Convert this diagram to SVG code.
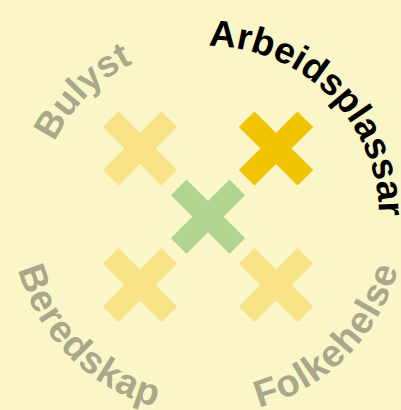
<svg xmlns="http://www.w3.org/2000/svg" xmlns:xlink="http://www.w3.org/1999/xlink" width="401" height="410" viewBox="0 0 401 410">
  <style>
    .lbl { font-family: "Liberation Sans", Arial, sans-serif; font-weight: bold; font-size: 37px; }
    .bot { font-size: 38px; letter-spacing: 1px; }
    .muted { fill: #aaa78a; }
    .active { fill: #000000; }
    .pale { fill: #f7e385; }
    .gold { fill: #f2c300; }
    .green { fill: #b1d48f; }
  </style>
  <defs>
    <g id="cross">
      <rect x="-41.5" y="-11" width="83" height="22" transform="rotate(45)"/>
      <rect x="-41.5" y="-11" width="83" height="22" transform="rotate(-45)"/>
    </g>
    <path id="arcTop" d="M 37,217 A 171 171 0 0 1 379,217"/>
    <path id="arcBot" d="M 11,217 A 197 197 0 0 0 405,217"/>
  </defs>
  <rect width="401" height="410" fill="#faf6c8"/>
  <g id="node-bulyst" class="pale"><use href="#cross" transform="translate(140,148.5)"/></g>
  <g id="node-arbeidsplassar" class="gold"><use href="#cross" transform="translate(276,148.5)"/></g>
  <g id="node-centre" class="green"><use href="#cross" transform="translate(208,216.7)"/></g>
  <g id="node-beredskap" class="pale"><use href="#cross" transform="translate(140,285)"/></g>
  <g id="node-folkehelse" class="pale"><use href="#cross" transform="translate(276,285)"/></g>
  <g id="labels">
    <text class="lbl muted" text-anchor="middle"><textPath href="#arcTop" startOffset="25%">Bulyst</textPath></text>
    <text class="lbl active" text-anchor="middle"><textPath href="#arcTop" startOffset="75%">Arbeidsplassar</textPath></text>
    <text class="lbl bot muted" text-anchor="middle"><textPath href="#arcBot" startOffset="25%">Beredskap</textPath></text>
    <text class="lbl bot muted" text-anchor="middle"><textPath href="#arcBot" startOffset="75%">Folkehelse</textPath></text>
  </g>
</svg>
